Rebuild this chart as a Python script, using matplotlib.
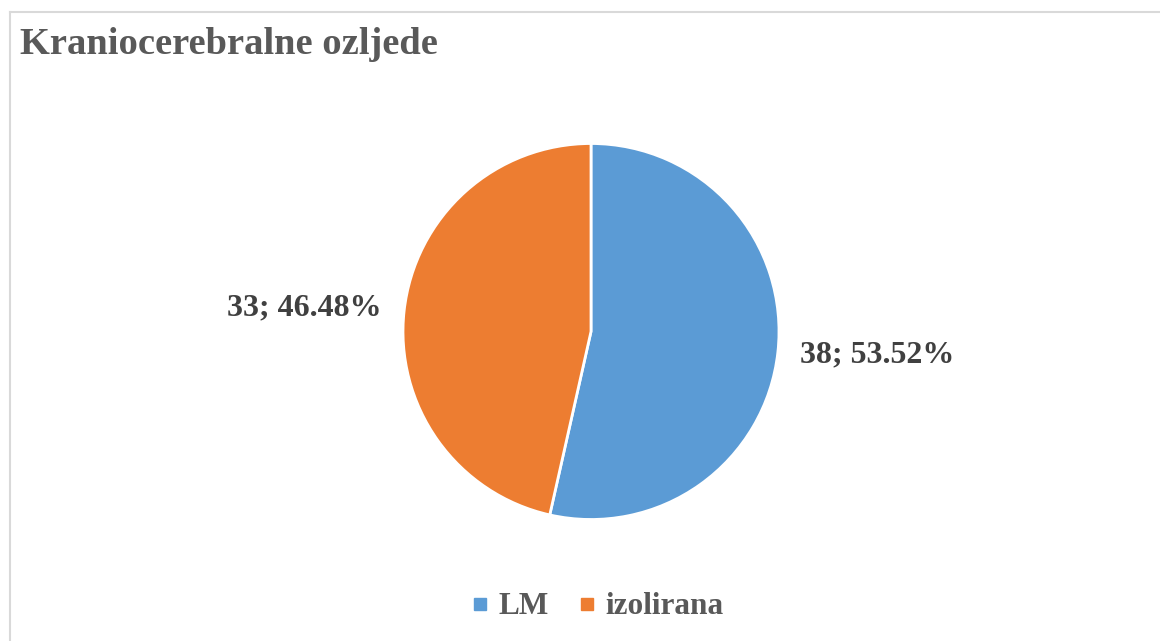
import matplotlib.pyplot as plt
from matplotlib.lines import Line2D

categories = ['LM', 'izolirana']
counts = [38, 33]
colors = ['#5B9BD5', '#ED7D31']
title = 'Kraniocerebralne ozljede'

plt.rcParams['font.family'] = ['Liberation Serif', 'DejaVu Serif']

W, H = 1160, 641
fig = plt.figure(figsize=(W / 100, H / 100), dpi=100)

# chart area border (only top and left visible)
fig.add_artist(Line2D([10 / W, 10 / W], [0, 1 - 12 / H], color='#d9d9d9', lw=1.5))
fig.add_artist(Line2D([10 / W, 1], [1 - 12 / H, 1 - 12 / H], color='#d9d9d9', lw=1.5))

fig.text(20 / W, 1 - 44 / H, title, fontsize=27.7, fontweight='bold',
         color='#595959', va='center', ha='left')

# pie centred on (591, 331) px, radius 188 px
cx, cy, r = 591, 331.5, 188
ax = fig.add_axes([(cx - r) / W, (H - cy - r) / H, 2 * r / W, 2 * r / H])
total = sum(counts)
labels = [f'{c}; {c / total * 100:.2f}%' for c in counts]
wedges, texts = ax.pie(counts, colors=colors, startangle=90, counterclock=False,
                       labels=labels, labeldistance=1.12,
                       wedgeprops=dict(edgecolor='white', linewidth=2))
for t in texts:
    t.set_fontsize(23)
    t.set_fontweight('bold')
    t.set_color('#404040')
ax.set_xlim(-1, 1)
ax.set_ylim(-1, 1)
ax.set_aspect('equal')

handles = [Line2D([], [], marker='s', linestyle='', markersize=8, color=c) for c in colors]
leg = fig.legend(handles, categories, loc='center', bbox_to_anchor=(597 / W, 1 - 607 / H),
                 ncol=2, frameon=False, handlelength=0.6, handletextpad=0.3,
                 columnspacing=0.9, prop={'size': 22.5, 'weight': 'bold'})
for t in leg.get_texts():
    t.set_color('#595959')

fig.savefig('out.png', dpi=100)
